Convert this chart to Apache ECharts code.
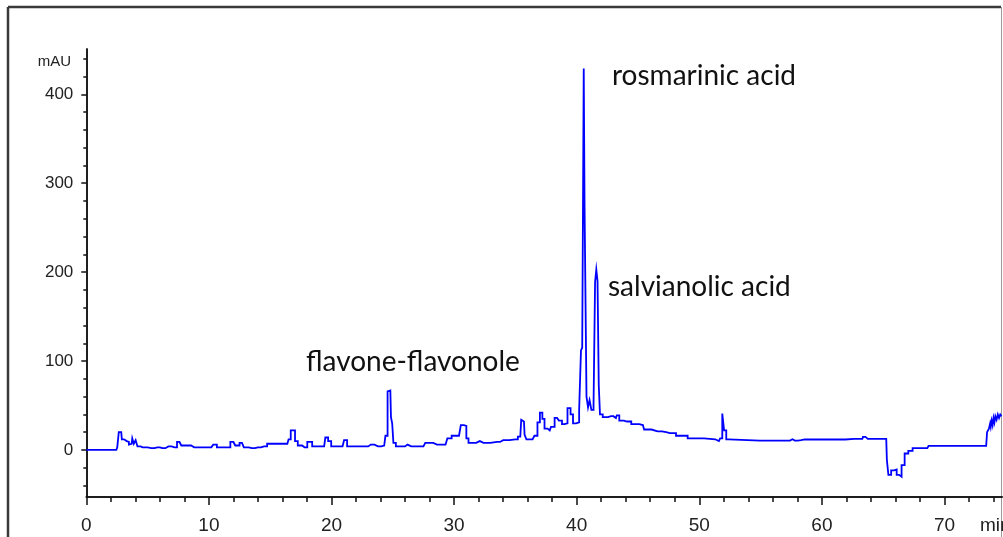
<!DOCTYPE html>
<html>
<head>
<meta charset="utf-8">
<script src="https://cdn.jsdelivr.net/npm/echarts@6/dist/echarts.min.js"></script>
<style>
  html, body { margin: 0; padding: 0; background: #fff; }
  #chart { width: 1003px; height: 537px; }
</style>
</head>
<body>
<div id="chart"></div>
<script>
// Retention time (min) and detector response (mAU) of the chromatogram trace
const retentionTime = [
  0, 2.45, 2.6, 2.7, 2.85, 2.95, 3.2, 3.4, 3.55, 3.7, 3.8, 3.95, 4.1, 4.25, 4.6, 5.0, 5.3, 5.8, 6.2, 6.7,
  7.2, 7.6, 7.9, 8.3, 8.8, 9.5, 10.2, 10.5, 10.8, 11.5, 12.0, 12.3, 12.7, 13.0, 13.5, 14.0, 14.5, 15.0, 15.8, 16.4,
  16.6, 16.75, 16.95, 17.1, 17.4, 17.8, 18.25, 18.6, 19.4, 19.6, 19.85, 20.1, 20.9, 21.15, 21.4, 22.8, 23.2, 23.5, 23.8, 24.3,
  24.5, 24.65, 24.8, 24.9, 25.0, 25.1, 25.4, 26.0, 26.2, 26.5, 27.5, 27.8, 28.3, 28.6, 29.3, 29.6, 30.0, 30.4, 30.7, 30.9,
  31.1, 31.25, 31.8, 32.1, 32.4, 33.5, 34.0, 35.0, 35.4, 35.55, 35.7, 35.8, 36.0, 36.4, 36.7, 36.9, 37.1, 37.3, 37.45, 37.8,
  38.0, 38.4, 38.7, 38.9, 39.1, 39.4, 39.6, 39.8, 40.1, 40.3, 40.4, 40.5, 40.55, 40.6, 40.68, 40.75, 40.85, 41.0, 41.1, 41.3,
  41.45, 41.55, 41.65, 41.75, 41.85, 41.95, 42.3, 42.8, 43.2, 43.35, 43.6, 44.1, 44.8, 45.4, 45.6, 46.6, 47.3, 47.6, 48.6, 49.5,
  51.3, 51.6, 51.8, 51.95, 52.1, 52.3, 52.5, 57.4, 57.6, 57.8, 58.3, 58.6, 61.9, 62.0, 63.3, 63.4, 63.7, 63.8, 65.25, 65.35,
  65.5, 65.8, 66.0, 66.2, 66.4, 66.6, 66.9, 67.2, 67.6, 68.6, 68.8, 73.4, 73.55, 73.7, 73.75, 73.8, 73.9, 73.95, 74.05, 74.1,
  74.2, 74.3, 74.4, 74.5, 74.6, 74.7
];
const absorbance = [
  0, 0, 3, 20, 20, 12, 10, 9, 6, 7, 13, 7, 11, 4, 3, 3, 2, 3, 2, 4,
  3, 9, 5, 5, 3, 3, 3, 6, 3, 3, 9, 5, 8, 3, 2, 3, 4, 7, 7, 7,
  12, 22, 22, 10, 5, 3, 9, 4, 4, 14, 10, 4, 4, 11, 4, 4, 6, 6, 4, 5,
  16, 66, 67, 37, 30, 8, 4, 4, 6, 4, 4, 8, 8, 6, 6, 13, 16, 16, 28, 27,
  13, 8, 8, 10, 8, 9, 11, 12, 15, 34, 32, 17, 12, 12, 16, 31, 42, 35, 24, 22,
  26, 36, 33, 29, 30, 47, 40, 30, 31, 45, 112, 115, 300, 429, 276, 276, 60, 48, 56, 45,
  52, 189, 203, 190, 73, 40, 37, 38, 36, 39, 33, 32, 29, 28, 23, 21, 20, 19, 16, 13,
  12, 10, 13, 41, 22, 12, 10.5, 10.5, 12, 10.5, 11, 11.8, 11.8, 12.4, 12.4, 14.7, 14.7, 12.4, 12.4, -11,
  -28, -23, -22, -28, -30, -17, -4, -1, 2, 2, 4.5, 4.5, 20, 24, 30, 26, 33, 28, 36, 31,
  38, 34, 40, 36, 40, 38
];

// Axis tick values
const xLabelTicks = [0, 10, 20, 30, 40, 50, 60, 70];
const xMinorTicks = [2, 4, 6, 8, 12, 14, 16, 18, 22, 24, 26, 28, 32, 34, 36, 38, 42, 44, 46, 48, 52, 54, 56, 58, 62, 64, 66, 68, 72, 74];
const yLabelTicks = [0, 100, 200, 300, 400];
const yMinorTicks = [-40, -20, 20, 40, 60, 80, 120, 140, 160, 180, 220, 240, 260, 280, 320, 340, 360, 380, 420, 440];

// Peak annotations
const peakNames = ['rosmarinic acid', 'salvianolic acid', 'flavone-flavonole'];

const trace = retentionTime.map((t, i) => [t, absorbance[i]]);

const X_MIN = 0, X_MAX = 74.7, Y_MIN = -52.9, Y_MAX = 451;
const tickFont = '"Liberation Sans Narrow", "Arial Narrow", "Liberation Sans", sans-serif';
const noteFont = 'Lato, "Open Sans", sans-serif';

function valueAxis(base) {
  return Object.assign({
    type: 'value',
    splitLine: { show: false },
    axisLine: { show: true, onZero: false, lineStyle: { color: '#111', width: 1.5 } }
  }, base);
}

const chart = echarts.init(document.getElementById('chart'), null, { renderer: 'canvas' });

chart.setOption({
  animation: false,
  backgroundColor: '#fff',
  grid: { left: 86.3, right: 0.9, top: 49, bottom: 40, containLabel: false },
  xAxis: [
    valueAxis({
      min: X_MIN, max: X_MAX,
      axisTick: { show: true, customValues: xLabelTicks, length: 8, lineStyle: { color: '#111', width: 1.5 } },
      axisLabel: { show: true, customValues: xLabelTicks, margin: 19, color: '#222', fontFamily: tickFont, fontSize: 19 }
    }),
    valueAxis({
      min: X_MIN, max: X_MAX, position: 'bottom',
      axisTick: { show: true, customValues: xMinorTicks, length: 5, lineStyle: { color: '#111', width: 1.5 } },
      axisLabel: { show: false }
    })
  ],
  yAxis: [
    valueAxis({
      min: Y_MIN, max: Y_MAX,
      axisTick: { show: true, customValues: yLabelTicks, length: 5, lineStyle: { color: '#111', width: 1.5 } },
      axisLabel: { show: true, customValues: yLabelTicks, margin: 13, color: '#222', fontFamily: tickFont, fontSize: 17 }
    }),
    valueAxis({
      min: Y_MIN, max: Y_MAX, position: 'left',
      axisTick: { show: true, customValues: yMinorTicks, length: 3, lineStyle: { color: '#111', width: 1.5 } },
      axisLabel: { show: false }
    })
  ],
  series: [{
    type: 'line',
    data: trace,
    xAxisIndex: 0,
    yAxisIndex: 0,
    step: 'middle',
    showSymbol: false,
    symbol: 'none',
    clip: true,
    lineStyle: { color: '#0000ff', width: 1.8, join: 'miter' }
  }],
  graphic: [
    // outer frame
    { type: 'line', shape: { x1: 8, y1: 7, x2: 8, y2: 537 }, style: { stroke: '#3a3a3a', lineWidth: 2.5 } },
    { type: 'line', shape: { x1: 8, y1: 7, x2: 1001, y2: 7 }, style: { stroke: '#3a3a3a', lineWidth: 2.5 } },
    { type: 'line', shape: { x1: 1001.5, y1: 7, x2: 1001.5, y2: 537 }, style: { stroke: '#9a9a9a', lineWidth: 1 } },
    // axis units
    { type: 'text', x: 71, y: 62, style: { text: 'mAU', font: '15px ' + tickFont, fill: '#222', textAlign: 'right', textVerticalAlign: 'middle' } },
    { type: 'text', x: 980, y: 526, style: { text: 'min', font: '19px ' + tickFont, fill: '#222', textAlign: 'left', textVerticalAlign: 'middle' } },
    // peak names
    { type: 'text', x: 612, y: 76, style: { text: peakNames[0], font: '28px ' + noteFont, fill: '#111', textAlign: 'left', textVerticalAlign: 'middle' } },
    { type: 'text', x: 608, y: 287, style: { text: peakNames[1], font: '28px ' + noteFont, fill: '#111', textAlign: 'left', textVerticalAlign: 'middle' } },
    { type: 'text', x: 306, y: 362, style: { text: peakNames[2], font: '28px ' + noteFont, fill: '#111', textAlign: 'left', textVerticalAlign: 'middle' } }
  ]
});
</script>
</body>
</html>
